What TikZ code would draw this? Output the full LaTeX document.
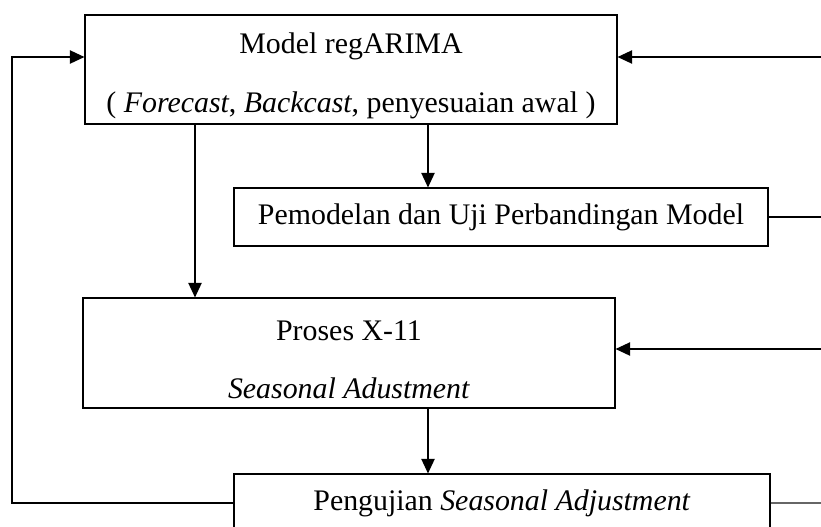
\documentclass[tikz,border=0pt]{standalone}
\usepackage{fontspec}
\setmainfont{Liberation Serif}
\usetikzlibrary{arrows.meta}

\tikzset{
  box/.style={draw, line width=0.8pt, inner sep=0pt, align=center, font=\fontsize{22.4}{27}\selectfont},
  flow/.style={line width=1.1pt, -{Triangle[length=11pt,width=10pt]}},
  link/.style={line width=1.1pt},
}

\begin{document}
\begin{tikzpicture}[x=0.75pt, y=-0.75pt]
\useasboundingbox (0,0) rectangle (821,526);
\clip (0,0) rectangle (821,526);

% Boxes
\node[box, minimum width=399pt, minimum height=81.75pt] (regarima) at (351,69.5)
  {\rule{0pt}{25pt}Model regARIMA\\[17pt]( \textit{Forecast}, \textit{Backcast}, penyesuaian awal )};
\node[box, minimum width=400.5pt, minimum height=43.5pt] (pemodelan) at (501,217)
  {Pemodelan dan Uji Perbandingan Model};
\node[box, minimum width=399pt, minimum height=82.5pt] (x11) at (349,353)
  {\rule{0pt}{25pt}Proses X-11\\[17pt]\textit{Seasonal Adustment}};
\node[box, minimum width=402pt, minimum height=43.5pt] (uji) at (502,503)
  {Pengujian \textit{Seasonal Adjustment}};

% Free ends
\coordinate (e1) at (821,57);
\coordinate (e3) at (821,349);
\coordinate (w) at (12,57);
\coordinate (d1) at (195,0);
\coordinate (d2) at (428,0);

% Connectors
\draw[flow] (e1) -- (e1 -| regarima.east);
\draw[link] (pemodelan.east) -- (pemodelan.east -| e1);
\draw[flow] (e3) -- (e3 -| x11.east);
\draw[link, black!60] (uji.east) -- (uji.east -| e1);
\draw[flow] (uji.west) -| (w) -- (regarima.west |- w);
\draw[flow] (regarima.south -| d1) -- (x11.north -| d1);
\draw[flow] (regarima.south -| d2) -- (pemodelan.north -| d2);
\draw[flow] (x11.south -| d2) -- (uji.north -| d2);
\end{tikzpicture}
\end{document}
